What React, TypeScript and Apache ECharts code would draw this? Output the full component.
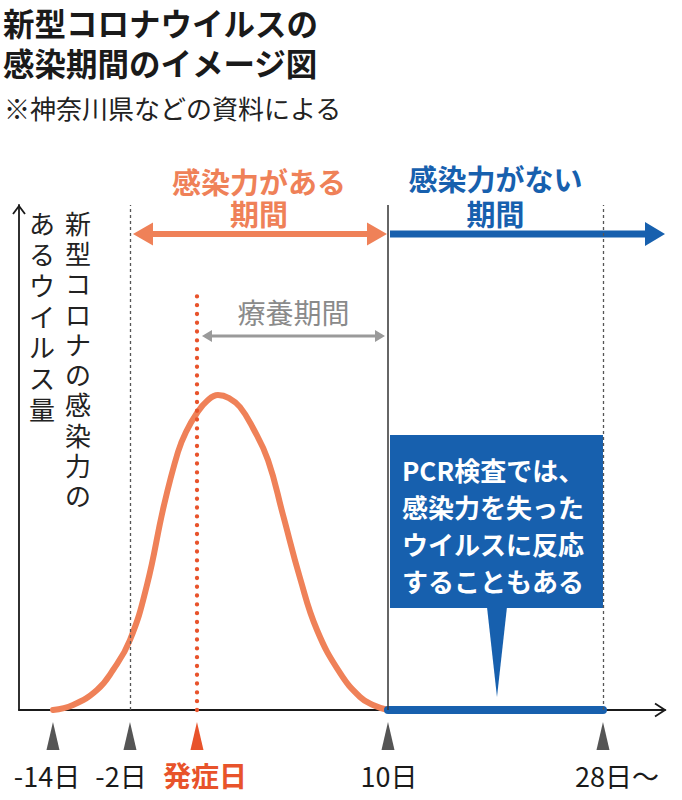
import React, { useEffect, useRef } from "react";
import * as echarts from "echarts";

// ---- data ----
const markerLabels = ["-14日", "-2日", "発症日", "10日", "28日〜"];
// positions of the day markers on the (illustrative, non-linear) timeline axis, 0–100
const markerPos = [5.26, 17.18, 27.55, 57.12, 90.4];
// infectious virus amount curve (timeline position, relative amount 0–100)
const curveX = [5.26, 8.36, 12.07, 14.55, 17.18, 19.81, 22.45, 24.61, 25.85, 27.55, 29.1, 30.8, 32.51, 34.21, 36.22, 38.54, 40.87, 43.5, 46.13, 49.69, 52.79, 54.8, 57.12];
const curveY = [0, 0.99, 3.96, 7.92, 13.86, 24.75, 40.59, 51.09, 55.05, 58.81, 61.19, 62.38, 61.78, 60.0, 55.84, 49.5, 38.61, 26.14, 15.84, 7.33, 2.57, 0.99, 0];
const symptomLineTop = 83.56; // top of the dotted onset line (relative units)

const titleLines = ["新型コロナウイルスの", "感染期間のイメージ図"];
const subtitle = "※神奈川県などの資料による";
const yLabelRight = "新型コロナの感染力の";
const yLabelLeft = "あるウイルス量";
const infectiousHead = ["感染力がある", "期間"];
const nonInfectiousHead = ["感染力がない", "期間"];
const recoveryLabel = "療養期間";
const calloutLines = ["PCR検査では、", "感染力を失った", "ウイルスに反応", "することもある"];

const FONT = '"Noto Sans CJK JP", "Noto Sans", sans-serif';
const ORANGE = "#ef8158";
const RED = "#e8532b";
const BLUE = "#1760ae";
const INK = "#1a1a1a";

export default function App() {
  const ref = useRef<HTMLDivElement>(null);

  useEffect(() => {
    const chart = echarts.init(ref.current!, null, { renderer: "svg" });
    const axisCommon = {
      type: "value",
      min: 0,
      max: 100,
      axisLine: { show: true, onZero: false, lineStyle: { color: INK, width: 1.8 } },
      axisTick: { show: false },
      axisLabel: { show: false },
      splitLine: { show: false },
    };
    chart.setOption({
      animation: false,
      backgroundColor: "#ffffff",
      grid: { left: 19, right: 17, top: 205, bottom: 90 },
      xAxis: { ...axisCommon },
      yAxis: { ...axisCommon },
      series: [
        {
          type: "line",
          data: [],
          symbol: "none",
          z: 2,
          markLine: {
            silent: true,
            symbol: ["none", "none"],
            label: { show: false },
            data: [
              { xAxis: markerPos[1], lineStyle: { color: "#555", width: 1.3, type: [3, 3] } },
              { xAxis: markerPos[4], lineStyle: { color: "#555", width: 1.3, type: [3, 3] } },
              { xAxis: markerPos[3], lineStyle: { color: "#333", width: 1.5, type: "solid" } },
              [
                { coord: [markerPos[2], 0], lineStyle: { color: RED, width: 4.3, type: [0.1, 8.7], cap: "round" } },
                { coord: [markerPos[2], symptomLineTop] },
              ],
            ],
          },
        },
        {
          type: "line",
          data: curveX.map((x, i) => [x, curveY[i]]),
          smooth: 0.45,
          symbol: "none",
          z: 3,
          lineStyle: { color: ORANGE, width: 6, cap: "round", join: "round" },
        },
        {
          type: "line",
          data: [
            [markerPos[3], 0],
            [markerPos[4], 0],
          ],
          symbol: "none",
          z: 4,
          lineStyle: { color: BLUE, width: 8, cap: "round" },
        },
      ],
    });

    const px = (x: number, y: number) => chart.convertToPixel({ gridIndex: 0 }, [x, y]) as number[];
    const mx = markerPos.map((p) => px(p, 0)[0]);
    const [gx0, gy0] = px(0, 0);
    const [gx1, gy1] = px(100, 100);

    const els: any[] = [];
    const txt = (text: string, x: number, y: number, font: string, fill: string, align = "left", va = "middle", extra: any = {}) =>
      els.push({ type: "text", x, y, silent: true, style: { text, font, fill, align, verticalAlign: va, ...extra } });

    // title
    txt(titleLines.join("\n"), 3, 2, `bold 31.5px ${FONT}`, INK, "left", "top", { lineHeight: 40 });
    txt(subtitle, 4, 107, `normal 26px ${FONT}`, "#222");

    // headings
    const midInf = (mx[1] + mx[3]) / 2;
    txt(infectiousHead.join("\n"), midInf, 165, `bold 29px ${FONT}`, ORANGE, "center", "top", { lineHeight: 32 });
    const midNon = (mx[3] + gx1) / 2 - 31;
    txt(nonInfectiousHead.join("\n"), midNon, 160, `bold 29px ${FONT}`, BLUE, "center", "top", { lineHeight: 35 });

    // orange double arrow
    {
      const y = 234, x1 = mx[1] + 3, x2 = mx[3] - 1, h = 20, hw = 11.5, sw = 3;
      els.push({
        type: "polygon", silent: true,
        shape: { points: [[x1, y], [x1 + h, y - hw], [x1 + h, y - sw], [x2 - h, y - sw], [x2 - h, y - hw], [x2, y], [x2 - h, y + hw], [x2 - h, y + sw], [x1 + h, y + sw], [x1 + h, y + hw]] },
        style: { fill: ORANGE },
      });
    }
    // blue arrow
    {
      const y = 234, x1 = mx[3] + 2, x2 = gx1, h = 20, hw = 12, sw = 3.5;
      els.push({
        type: "polygon", silent: true,
        shape: { points: [[x1, y - sw], [x2 - h, y - sw], [x2 - h, y - hw], [x2, y], [x2 - h, y + hw], [x2 - h, y + sw], [x1, y + sw]] },
        style: { fill: BLUE },
      });
    }
    // gray recovery arrow
    {
      const y = 336, x1 = mx[2] + 5, x2 = mx[3] - 3, h = 10, hw = 6, sw = 1.5;
      els.push({
        type: "polygon", silent: true,
        shape: { points: [[x1, y], [x1 + h, y - hw], [x1 + h, y - sw], [x2 - h, y - sw], [x2 - h, y - hw], [x2, y], [x2 - h, y + hw], [x2 - h, y + sw], [x1 + h, y + sw], [x1 + h, y + hw]] },
        style: { fill: "#9a9a9a" },
      });
      txt(recoveryLabel, (x1 + x2) / 2, 312, `normal 28px ${FONT}`, "#8a8a8a", "center");
    }

    // vertical y-axis label (two columns, right column first)
    txt(yLabelRight.split("").join("\n"), 78, 207, `normal 26px ${FONT}`, "#222", "center", "top", { lineHeight: 30.3 });
    txt(yLabelLeft.split("").join("\n"), 42, 206.5, `normal 26px ${FONT}`, "#222", "center", "top", { lineHeight: 31 });

    // axis arrow heads
    els.push({ type: "polyline", silent: true, shape: { points: [[gx1 - 10, gy0 - 6.5], [gx1, gy0], [gx1 - 10, gy0 + 6.5]] }, style: { stroke: INK, lineWidth: 1.8, fill: null } });
    els.push({ type: "polyline", silent: true, shape: { points: [[gx0 - 6, gy1 + 9], [gx0, gy1 + 1], [gx0 + 6, gy1 + 9]] }, style: { stroke: INK, lineWidth: 1.8, fill: null } });

    // callout
    {
      const bx = mx[3] + 2, bw = mx[4] - bx, by = 435, bh = 173;
      const cx = (mx[3] + mx[4]) / 2 + 1.5;
      els.push({ type: "rect", silent: true, shape: { x: bx, y: by, width: bw, height: bh }, style: { fill: BLUE } });
      els.push({ type: "polygon", silent: true, shape: { points: [[cx - 10, by + bh - 1], [cx + 10, by + bh - 1], [cx, 697]] }, style: { fill: BLUE } });
      txt(calloutLines.join("\n"), bx + 12, 451.6, `bold 26px ${FONT}`, "#ffffff", "left", "top", { lineHeight: 36.7 });
    }

    // markers & labels
    const nudge = [-6, -9, 8, 1, 14];
    markerLabels.forEach((lab, i) => {
      const c = mx[i];
      const isOnset = i === 2;
      els.push({ type: "polygon", silent: true, shape: { points: [[c, 722], [c - 6.5, 750], [c + 6.5, 750]] }, style: { fill: isOnset ? RED : "#555" } });
      txt(lab, c + nudge[i], 775, isOnset ? `bold 28px ${FONT}` : `normal 27px ${FONT}`, isOnset ? RED : INK, "center");
    });

    chart.setOption({ graphic: { elements: els } });
    return () => chart.dispose();
  }, []);

  return <div ref={ref} style={{ position: "absolute", left: 0, top: 0, width: 682, height: 800 }} />;
}
